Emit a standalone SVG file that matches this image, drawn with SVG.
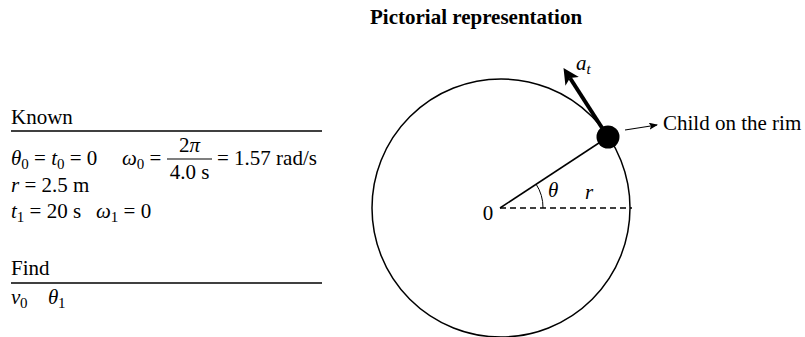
<svg xmlns="http://www.w3.org/2000/svg" width="805" height="337" viewBox="0 0 805 337">
<style>
text{font-family:"Liberation Serif","Times New Roman",serif;font-size:21px;fill:#000}
.it{font-style:italic}
.sub{font-size:15px}
.b{font-weight:bold}
.ln{stroke:#000;fill:none}
</style>
<defs>
<marker id="big" markerWidth="4" markerHeight="4" refX="1" refY="2" orient="auto" markerUnits="strokeWidth" viewBox="0 0 4 4">
<path d="M0,0 L4,2 L0,4 L1,2 z" fill="#000"/>
</marker>
<marker id="small" markerWidth="9" markerHeight="7" refX="8" refY="3.5" orient="auto" markerUnits="userSpaceOnUse">
<path d="M0,0 L9,3.5 L0,7 L2,3.5 z" fill="#000"/>
</marker>
</defs>
<rect width="805" height="337" fill="#fff"/>
<g id="known">
<text x="11" y="124">Known</text>
<line class="ln" x1="11" y1="131" x2="322" y2="131" stroke-width="1.5"/>
<text x="11" y="165"><tspan class="it">θ</tspan><tspan class="sub" dy="4">0</tspan><tspan dy="-4"> = </tspan><tspan class="it">t</tspan><tspan class="sub" dy="4">0</tspan><tspan dy="-4"> = 0</tspan></text>
<text x="122" y="165"><tspan class="it">ω</tspan><tspan class="sub" dy="4">0</tspan><tspan dy="-4"> =</tspan></text>
<text x="189.5" y="152" text-anchor="middle">2<tspan class="it">π</tspan></text>
<line class="ln" x1="167" y1="159" x2="212" y2="159" stroke-width="1.2"/>
<text x="189.5" y="179" text-anchor="middle">4.0 s</text>
<text x="217" y="165">= 1.57 rad/s</text>
<text x="11" y="192"><tspan class="it">r</tspan> = 2.5 m</text>
<text x="11" y="218"><tspan class="it">t</tspan><tspan class="sub" dy="4">1</tspan><tspan dy="-4"> = 20 s</tspan></text>
<text x="96" y="218"><tspan class="it">ω</tspan><tspan class="sub" dy="4">1</tspan><tspan dy="-4"> = 0</tspan></text>
</g>
<g id="find">
<text x="11" y="275">Find</text>
<line class="ln" x1="11" y1="283" x2="322" y2="283" stroke-width="1.5"/>
<text y="304"><tspan class="it" x="11">v</tspan><tspan class="sub" x="20" y="308">0</tspan></text>
<text y="304"><tspan class="it" x="48">θ</tspan><tspan class="sub" x="58" y="308">1</tspan></text>
</g>
<g id="title">
<text class="b" x="370" y="24">Pictorial representation</text>
</g>
<g id="circle">
<circle cx="501" cy="208" r="129" class="ln" stroke-width="1.5"/>
<text x="488" y="220" text-anchor="middle">0</text>
<text class="it" x="548" y="197">θ</text>
<text class="it" x="585" y="199">r</text>
</g>
<g id="child">
<circle cx="608" cy="137" r="11.5" fill="#000"/>
<text x="663" y="130">Child on the rim</text>
<text class="it" x="576" y="70">a<tspan class="sub" dy="4">t</tspan></text>
</g>
<g id="connectors">
<line class="ln" x1="500" y1="208" x2="608" y2="137" stroke-width="1.5"/>
<line class="ln" x1="500" y1="208" x2="632" y2="208" stroke-width="1.5" stroke-dasharray="6,4"/>
<path class="ln" d="M543,208 A43,43 0 0 0 536,184" stroke-width="1"/>
<line class="ln" x1="606" y1="134" x2="570" y2="78" stroke-width="4" marker-end="url(#big)"/>
<line class="ln" x1="625" y1="130" x2="657" y2="125" stroke-width="1.2" marker-end="url(#small)"/>
</g>
</svg>
